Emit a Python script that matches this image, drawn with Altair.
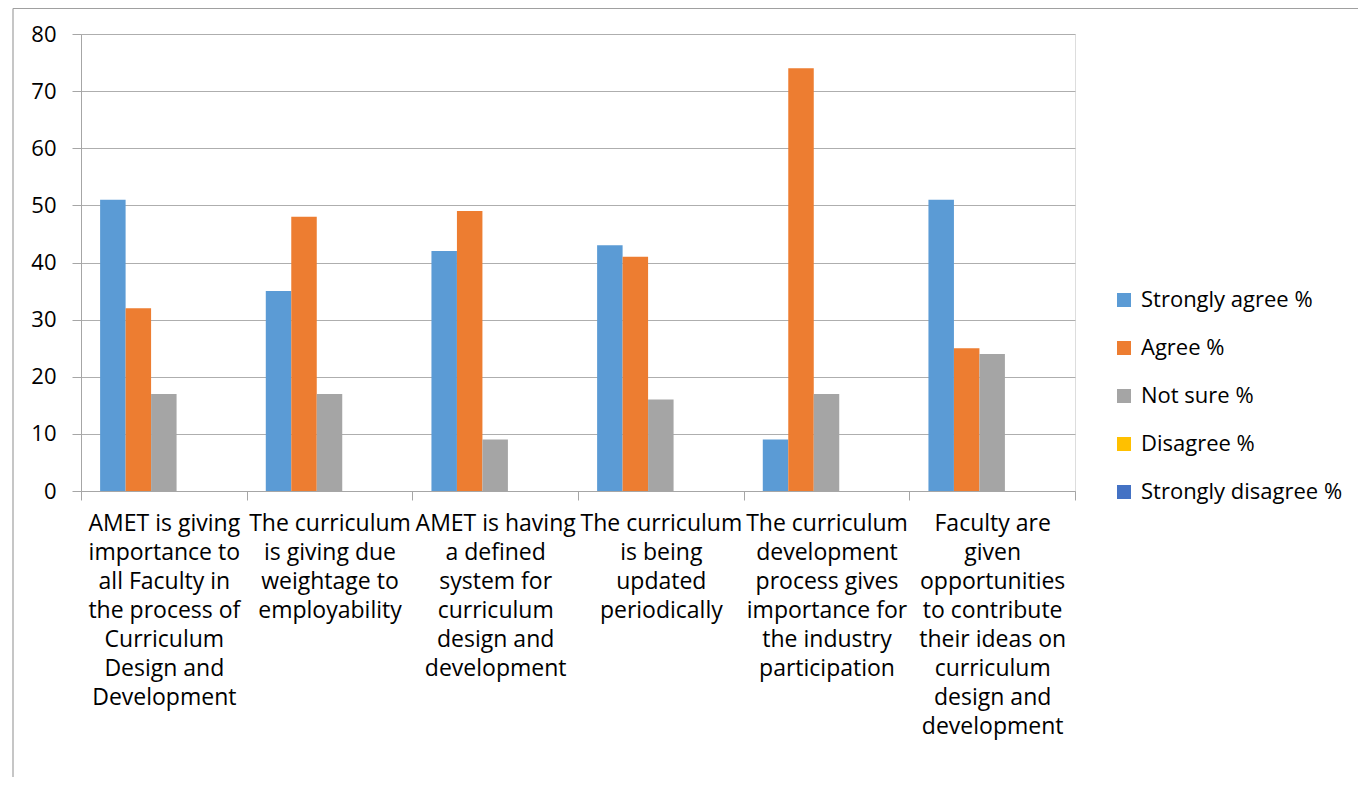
import altair as alt
import pandas as pd

categories = [
    "AMET is giving|importance to|all Faculty in|the process of|Curriculum|Design and|Development",
    "The curriculum|is giving due|weightage to|employability",
    "AMET is having|a defined|system for|curriculum|design and|development",
    "The curriculum|is being|updated|periodically",
    "The curriculum|development|process gives|importance for|the industry|participation",
    "Faculty are|given|opportunities|to contribute|their ideas on|curriculum|design and|development",
]
series = ["Strongly agree %", "Agree %", "Not sure %", "Disagree %", "Strongly disagree %"]
strongly_agree = [51, 35, 42, 43, 9, 51]
agree = [32, 48, 49, 41, 74, 25]
not_sure = [17, 17, 9, 16, 17, 24]
disagree = [0, 0, 0, 0, 0, 0]
strongly_disagree = [0, 0, 0, 0, 0, 0]
colors = ["#5B9BD5", "#ED7D31", "#A5A5A5", "#FFC000", "#4472C4"]
y_ticks = [0, 10, 20, 30, 40, 50, 60, 70, 80]

rows = []
for s, vals in zip(series, [strongly_agree, agree, not_sure, disagree, strongly_disagree]):
    for c, v in zip(categories, vals):
        rows.append({"category": c, "series": s, "value": v})
df = pd.DataFrame(rows)

FONT = "Open Sans"
AXIS_GREY = "#A6A6A6"

bars = alt.Chart(df).mark_bar().encode(
    x=alt.X("category:N", sort=categories,
            scale=alt.Scale(paddingInner=0, paddingOuter=0),
            axis=alt.Axis(title=None, labelAngle=0, labelExpr="split(datum.label, '|')",
                          labelLimit=0, labelFontSize=23, labelLineHeight=29,
                          labelBaseline="top", labelPadding=12, labelFont=FONT,
                          labelColor="#000000", tickBand="extent", tickSize=9,
                          tickColor=AXIS_GREY, domainColor=AXIS_GREY, grid=False)),
    xOffset=alt.XOffset("series:N", sort=series,
                        scale=alt.Scale(paddingInner=0, paddingOuter=0.75)),
    y=alt.Y("value:Q", scale=alt.Scale(domain=[0, 80]),
            axis=alt.Axis(title=None, values=y_ticks, labelFontSize=22, labelFont=FONT,
                          labelColor="#000000", labelPadding=16, tickSize=9,
                          tickColor=AXIS_GREY, domainColor=AXIS_GREY,
                          gridColor="#AEAEAE")),
    color=alt.Color("series:N", sort=series,
                    scale=alt.Scale(domain=series, range=colors),
                    legend=alt.Legend(title=None, orient="none", legendX=1032, legendY=255,
                                      symbolType="square", symbolSize=196,
                                      symbolStrokeWidth=0, labelFontSize=22,
                                      labelFont=FONT, labelColor="#000000",
                                      labelOffset=6, rowPadding=26, labelLimit=0)),
)

frame_data = alt.Data(values=[{"k": 1}])
left_border = alt.Chart(frame_data).mark_rule(color="#A0A0A0", strokeWidth=1.2).encode(
    x=alt.value(-68), y=alt.value(-25.5), y2=alt.value(800))
top_border = alt.Chart(frame_data).mark_rule(color="#A0A0A0", strokeWidth=1.2).encode(
    x=alt.value(-68), x2=alt.value(1400), y=alt.value(-25.5))

chart = alt.layer(bars, left_border, top_border).properties(
    width=994, height=457,
    autosize=alt.AutoSizeParams(type="none"),
    padding={"left": 73, "top": 26, "right": 283, "bottom": 286},
).configure_view(stroke=None).configure(background="white")

chart.save("out.html", embed_options={"renderer": "svg", "actions": False})
